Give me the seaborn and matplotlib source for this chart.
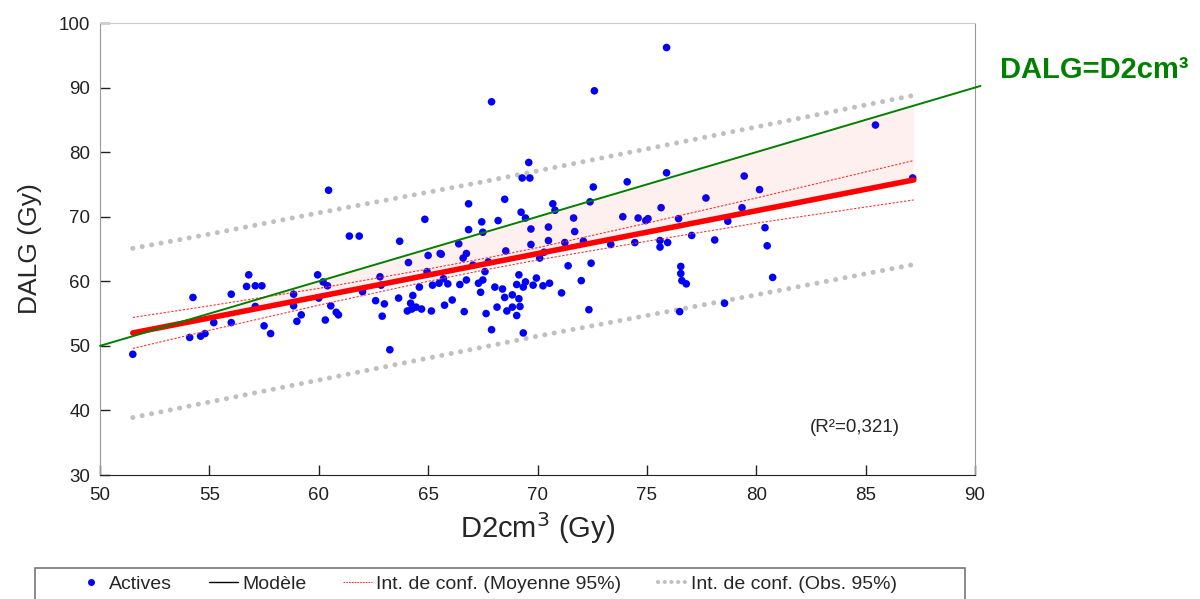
import numpy as np
import pandas as pd
import matplotlib
matplotlib.use("Agg")
import matplotlib.pyplot as plt
import seaborn as sns
from matplotlib.lines import Line2D
from matplotlib.patches import Rectangle

# observed points (D2cm3, DALG) in Gy
d2cm3 = [51.5, 54.1, 54.25, 54.6, 54.8, 55.2, 56.0, 56.0, 56.7, 56.8, 57.1, 57.1, 57.4,
         57.5, 57.8, 58.85, 58.85, 59.0, 59.2, 59.95, 60.0, 60.2, 60.3, 60.4, 60.45,
         60.55, 60.8, 60.9, 61.4, 61.85, 62.0, 62.6, 62.8, 62.85, 62.9, 63.0, 63.25,
         63.65, 63.7, 64.05, 64.1, 64.2, 64.25, 64.3, 64.45, 64.6, 64.7, 64.85, 64.95,
         65.0, 65.15, 65.2, 65.5, 65.55, 65.6, 65.7, 65.75, 65.9, 66.1, 66.4, 66.45,
         66.6, 66.65, 66.75, 66.75, 66.85, 66.85, 67.05, 67.3, 67.4, 67.45, 67.5, 67.5,
         67.6, 67.65, 67.75, 67.9, 67.9, 68.05, 68.15, 68.2, 68.4, 68.5, 68.5, 68.55,
         68.6, 68.85, 68.85, 69.05, 69.05, 69.15, 69.15, 69.2, 69.25, 69.3, 69.35,
         69.35, 69.45, 69.45, 69.6, 69.65, 69.7, 69.7, 69.8, 69.95, 70.1, 70.25, 70.3,
         70.5, 70.5, 70.55, 70.7, 70.8, 71.1, 71.25, 71.4, 71.65, 71.7, 72.0, 72.1,
         72.35, 72.4, 72.45, 72.55, 72.6, 73.35, 73.9, 74.1, 74.45, 74.6, 74.95, 75.05,
         75.6, 75.6, 75.65, 75.9, 75.9, 75.95, 76.45, 76.5, 76.55, 76.55, 76.6, 76.8,
         77.05, 77.7, 78.1, 78.55, 78.7, 79.35, 79.45, 80.15, 80.4, 80.5, 80.75,
         85.45, 87.15]
dalg = [48.7, 51.3, 57.5, 51.5, 51.9, 53.6, 53.6, 58.0, 59.2, 61.0, 56.1, 59.3, 59.3,
        53.1, 51.9, 58.0, 56.2, 53.8, 54.8, 61.0, 57.4, 59.9, 54.0, 59.3, 74.1,
        56.2, 55.2, 54.8, 67.0, 67.0, 58.4, 57.0, 60.7, 59.4, 54.6, 56.5, 49.4,
        57.4, 66.2, 55.4, 62.9, 56.6, 55.7, 57.8, 56.0, 59.1, 55.7, 69.6, 61.5,
        64.0, 55.4, 59.4, 59.7, 64.3, 64.2, 60.4, 56.3, 59.6, 57.1, 65.8, 59.5,
        63.6, 55.3, 60.2, 64.3, 72.0, 68.0, 62.5, 59.7, 58.3, 69.2, 67.6, 60.2,
        61.5, 55.0, 63.0, 87.8, 52.5, 59.1, 56.0, 69.4, 58.8, 57.5, 72.7, 64.7,
        55.4, 57.9, 56.0, 59.5, 54.7, 57.3, 61.0, 56.1, 70.7, 76.0, 52.0,
        59.1, 69.8, 59.9, 78.4, 76.0, 68.1, 65.7, 59.4, 60.5, 63.6, 59.3, 64.5,
        68.4, 66.3, 59.7, 72.0, 71.0, 58.2, 66.0, 62.4, 69.8, 67.7, 60.1, 66.2,
        55.6, 72.3, 62.8, 74.6, 89.5, 65.7, 70.0, 75.4, 66.0, 69.8, 69.4, 69.7,
        65.3, 66.3, 71.4, 76.8, 96.2, 66.0, 69.7, 55.3, 62.3, 61.2, 60.1, 59.6,
        67.1, 72.9, 66.4, 56.6, 69.3, 71.4, 76.3, 74.2, 68.3, 65.5, 60.6,
        84.2, 76.0]

# regression line and confidence bands
reg_x = [51.5, 87.2]
reg_y = [52.0, 75.7]
band_x = [51.5, 55, 60, 65, 67.5, 70, 75, 80, 87.2]
mean_hi = [54.4, 56.2, 58.9, 61.9, 63.5, 65.2, 69.0, 72.9, 78.7]
mean_lo = [49.6, 52.4, 56.3, 60.0, 61.7, 63.3, 66.2, 69.0, 72.6]
obs_hi = [65.1, 67.3, 70.6, 73.8, 75.4, 77.1, 80.5, 83.9, 88.8]
obs_lo = [38.9, 41.3, 44.7, 48.1, 49.8, 51.5, 54.7, 57.9, 62.6]
ident = [50, 90.25]

sns.set_style("white")
plt.rcParams['font.family'] = ['Liberation Sans', 'DejaVu Sans']

fig = plt.figure(figsize=(12, 5.99), dpi=100)
ax = fig.add_axes([100/1200, 1-475/599, 875/1200, 452/599])

pts = pd.DataFrame({"x": d2cm3, "y": dalg})
sns.scatterplot(data=pts, x="x", y="y", ax=ax, color="#0000ff", s=30,
                edgecolor="none", zorder=3, legend=False)

gray_dots = (0, (0.01, 1.9))
ax.plot(band_x, obs_hi, color="#c0c0c0", lw=3.6, linestyle=gray_dots,
        dash_capstyle="round", zorder=2)
ax.plot(band_x, obs_lo, color="#c0c0c0", lw=3.6, linestyle=gray_dots,
        dash_capstyle="round", zorder=2)
ax.plot(band_x, mean_hi, color="#ff3030", lw=0.8, linestyle=(0, (2, 1.5)), zorder=4)
ax.plot(band_x, mean_lo, color="#ff3030", lw=0.8, linestyle=(0, (2, 1.5)), zorder=4)

sns.lineplot(x=reg_x, y=reg_y, ax=ax, color="#ff0000", lw=4, zorder=5,
             solid_capstyle="round")
ax.plot(ident, ident, color="#008000", lw=1.4, clip_on=False, zorder=5)

rx = np.array(reg_x)
ax.fill_between(rx, rx, reg_y, where=rx >= np.array(reg_y), interpolate=True,
                color="#ff0000", alpha=0.06, lw=0, zorder=6)

ax.set_xlim(50, 90)
ax.set_ylim(30, 100)
ax.set_xticks(range(50, 91, 5))
ax.set_yticks(range(30, 101, 10))
ax.tick_params(bottom=True, left=True, direction="in", length=7, width=1,
               labelsize=13.5, colors="#222222")
ax.tick_params(axis="x", pad=9)
ax.tick_params(axis="y", pad=7)
for side in ["left", "right"]:
    ax.spines[side].set_color("#999999")
ax.spines["top"].set_color("#cccccc")
ax.spines["bottom"].set_color("#222222")
ax.set_xlabel("D2cm$^3$ (Gy)", fontsize=21, labelpad=4)
ax.set_ylabel("DALG (Gy)", fontsize=19, labelpad=12)

fig.text(855/1200, 1-427/599, "(R²=0,321)", fontsize=13.5, ha="center",
         va="center")
fig.text(1094/1200, 1-70/599, "DALG=D2cm³", color="#008000", fontsize=21,
         fontweight="bold", ha="center", va="center")

# legend box runs off the bottom edge
fig.add_artist(Rectangle((35/1200, -0.05), 930/1200, 0.05 + 1-568/599,
                         transform=fig.transFigure, fill=False,
                         edgecolor="#777777", lw=1.2))
handles = [
    Line2D([], [], marker="o", color="#0000ff", ls="none", markersize=4),
    Line2D([], [], color="#000000", lw=1),
    Line2D([], [], color="#ff3030", lw=0.8, ls=(0, (1.5, 1))),
    Line2D([], [], color="#c0c0c0", lw=3, ls=(0, (0.01, 1.6)), dash_capstyle="round"),
]
labels = ["Actives", "Modèle", "Int. de conf. (Moyenne 95%)", "Int. de conf. (Obs. 95%)"]
fig.legend(handles, labels, loc="center left", ncol=4,
           bbox_to_anchor=(76/1200, 1-584/599), borderaxespad=0, borderpad=0,
           frameon=False, prop={"size": 14}, handlelength=1.5,
           handletextpad=0.2, columnspacing=1.9)

fig.savefig("out.png", dpi=100)
